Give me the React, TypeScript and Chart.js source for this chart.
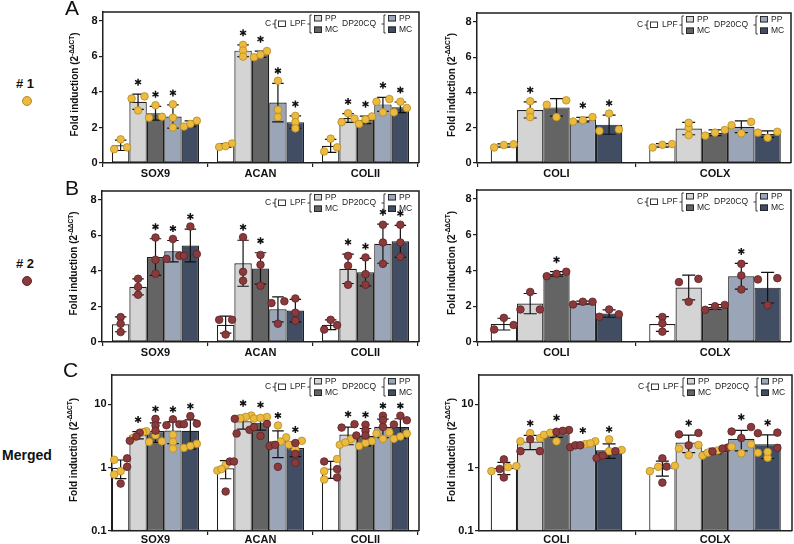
import React, { useEffect, useRef } from 'react';
import { Chart, registerables } from 'chart.js';

Chart.register(...registerables);

const FONT = '"Liberation Sans", Arial, Helvetica, sans-serif';

// ---------- data ----------
const groupLabels = ['C', 'LPF PP', 'LPF MC', 'DP20CQ PP', 'DP20CQ MC'];
const chondroGenes = ['SOX9', 'ACAN', 'COLII'];
const fibroGenes = ['COLI', 'COLX'];
const linearTicks = [0, 2, 4, 6, 8];
const logTicks = [0.1, 1, 10];
const logTickLabels = ['0.1', '1', '10'];

// Donor #1 replicates; rows = C, LPF PP, LPF MC, DP20CQ PP, DP20CQ MC
const sox9Donor1 = [[1.33, 0.78, 0.88], [3.75, 3.63, 2.96], [3.25, 2.6, 2.55], [3.3, 2.55, 2.0], [2.05, 2.38, 2.2]];
const acanDonor1 = [[0.9, 1.1, 0.95], [6.65, 6.33, 5.99], [5.95, 6.3, 6.1], [4.63, 3.0, 2.58], [2.65, 2.3, 1.95]];
const col2Donor1 = [[0.65, 1.37, 0.88], [2.3, 2.8, 2.5], [2.2, 2.62, 2.45], [3.45, 2.85, 3.6], [3.45, 2.85, 3.1]];
const col1Donor1 = [[0.88, 1.06, 1.02], [3.5, 2.92, 2.6], [3.3, 3.55, 2.6], [2.35, 2.6, 2.42], [1.82, 2.8, 1.9]];
const colXDonor1 = [[0.88, 1.07, 1.03], [1.58, 2.0, 2.28], [1.55, 1.87, 1.72], [1.68, 2.14, 2.33], [1.43, 1.77, 1.72]];

// Donor #2 replicates
const sox9Donor2 = [[1.4, 1.03, 0.56], [3.56, 3.1, 2.66], [5.88, 4.63, 3.84], [4.68, 5.8, 4.85], [4.85, 6.5, 4.95]];
const acanDonor2 = [[1.25, 0.42, 1.25], [5.9, 3.95, 3.45], [4.9, 4.35, 3.17], [2.19, 1.03, 2.29], [2.45, 1.65, 1.2]];
const col2Donor2 = [[0.7, 0.95, 1.25], [4.85, 4.29, 3.22], [4.76, 3.82, 3.22], [6.6, 5.6, 4.4], [6.6, 5.6, 4.8]];
const col1Donor2 = [[0.7, 1.35, 0.95], [1.82, 2.8, 1.82], [3.68, 3.93, 3.81], [2.1, 2.25, 2.25], [1.41, 1.82, 1.55]];
const colXDonor2 = [[1.4, 1.04, 0.58], [3.53, 3.35, 2.25], [1.8, 2.07, 2.0], [2.94, 3.72, 4.37], [3.5, 3.57, 2.05]];

// significance (asterisk) per gene, per group
const sigA_chondro = [[0, 1, 1, 1, 0], [0, 1, 1, 1, 1], [0, 1, 1, 1, 1]];
const sigA_fibro = [[0, 1, 0, 1, 1], [0, 0, 0, 0, 0]];
const sigB_chondro = [[0, 0, 1, 1, 1], [0, 1, 1, 0, 0], [0, 1, 1, 1, 1]];
const sigB_fibro = [[0, 0, 1, 0, 0], [0, 0, 0, 1, 0]];
const sigM_chondro = [[0, 1, 1, 1, 1], [0, 1, 1, 1, 1], [0, 1, 1, 1, 1]];
const sigM_fibro = [[0, 1, 1, 1, 1], [0, 1, 0, 1, 1]];

// ---------- styles ----------
const GROUP_FILLS = ['#ffffff', '#d4d4d4', '#646464', '#9aa5b8', '#404d63'];
const INK = '#1e1e1e';
const DONOR_FILL: Record<number, string> = { 1: '#ebba3e', 2: '#8b3a3c' };
const DONOR_EDGE: Record<number, string> = { 1: '#b58b25', 2: '#5c2224' };
const DOT_R = 3.8;

type Layout = { l: number; r: number; t: number; b: number; c0: number; step: number; titleOff: number; padR: number; xPad: number };
type PanelDef = { id: string; genes: string[]; donorSets: number[][][][]; donorIds: number[]; sig: number[][]; log: boolean; lay: Layout };

const panels: PanelDef[] = [
  { id: 'A1', genes: chondroGenes, donorSets: [[sox9Donor1, acanDonor1, col2Donor1]], donorIds: [1], sig: sigA_chondro, log: false,
    lay: { l: 103, r: 419, t: 12, b: 163, c0: 155.5, step: 105, titleOff: 28.5, padR: 3, xPad: 0 } },
  { id: 'A2', genes: fibroGenes, donorSets: [[col1Donor1, colXDonor1]], donorIds: [1], sig: sigA_fibro, log: false,
    lay: { l: 477, r: 791, t: 13, b: 163, c0: 556.5, step: 158.5, titleOff: 26, padR: 3, xPad: 0 } },
  { id: 'B1', genes: chondroGenes, donorSets: [[sox9Donor2, acanDonor2, col2Donor2]], donorIds: [2], sig: sigB_chondro, log: false,
    lay: { l: 102, r: 419, t: 191, b: 342, c0: 155.5, step: 105, titleOff: 28.5, padR: 3, xPad: 0 } },
  { id: 'B2', genes: fibroGenes, donorSets: [[col1Donor2, colXDonor2]], donorIds: [2], sig: sigB_fibro, log: false,
    lay: { l: 477, r: 791, t: 190, b: 342, c0: 556.5, step: 158.5, titleOff: 26, padR: 3, xPad: 0 } },
  { id: 'C1', genes: chondroGenes, donorSets: [[sox9Donor1, acanDonor1, col2Donor1], [sox9Donor2, acanDonor2, col2Donor2]], donorIds: [1, 2], sig: sigM_chondro, log: true,
    lay: { l: 112, r: 419, t: 375, b: 531, c0: 155.5, step: 105, titleOff: 39, padR: 3, xPad: -2 } },
  { id: 'C2', genes: fibroGenes, donorSets: [[col1Donor1, colXDonor1], [col1Donor2, colXDonor2]], donorIds: [1, 2], sig: sigM_fibro, log: true,
    lay: { l: 479, r: 792, t: 375, b: 531, c0: 556.5, step: 158.5, titleOff: 28, padR: 2, xPad: -2 } },
];

type Pt = { v: number; donor: number };

function mean(a: number[]) { return a.reduce((s, x) => s + x, 0) / a.length; }
function sdev(a: number[]) {
  const m = mean(a);
  return Math.sqrt(a.reduce((s, x) => s + (x - m) * (x - m), 0) / (a.length - 1));
}
function pointsOf(p: PanelDef, j: number, i: number): Pt[] {
  const out: Pt[] = [];
  p.donorSets.forEach((set, k) => set[j][i].forEach((v) => out.push({ v, donor: p.donorIds[k] })));
  return out;
}

// GraphPad-like spreading of overlapping points
function swarm(py: number[], thr: number, d: number, bw: number): number[] {
  const idx = py.map((_, k) => k).sort((a, b) => py[b] - py[a]);
  const offs = new Array(py.length).fill(0);
  const flush = (c: number[]) => {
    const n = c.length;
    if (n === 1) offs[c[0]] = 0;
    else if (n === 2) { offs[c[0]] = -d; offs[c[1]] = d; }
    else {
      const sp = Math.min(d, (0.95 * bw) / (n - 1));
      c.forEach((k, q) => { offs[k] = (q - (n - 1) / 2) * sp; });
    }
  };
  let cluster = [idx[0]];
  for (let q = 1; q < idx.length; q++) {
    if (Math.abs(py[idx[q]] - py[idx[q - 1]]) < thr) cluster.push(idx[q]);
    else { flush(cluster); cluster = [idx[q]]; }
  }
  flush(cluster);
  return offs;
}

function drawStar(ctx: CanvasRenderingContext2D, x: number, y: number) {
  ctx.save();
  ctx.strokeStyle = '#111';
  ctx.lineWidth = 1.5;
  ctx.beginPath();
  for (let k = 0; k < 3; k++) {
    const a = Math.PI / 2 + (k * Math.PI) / 3;
    ctx.moveTo(x + Math.cos(a) * 3.5, y + Math.sin(a) * 3.5);
    ctx.lineTo(x - Math.cos(a) * 3.5, y - Math.sin(a) * 3.5);
  }
  ctx.stroke();
  ctx.restore();
}

function bracket(ctx: CanvasRenderingContext2D, x: number, y0: number, y1: number) {
  const ym = (y0 + y1) / 2;
  ctx.beginPath();
  ctx.moveTo(x - 2.5, ym); ctx.lineTo(x, ym);
  ctx.moveTo(x + 1.8, y0); ctx.lineTo(x, y0); ctx.lineTo(x, y1); ctx.lineTo(x + 1.8, y1);
  ctx.stroke();
}

function swatch(ctx: CanvasRenderingContext2D, x: number, y: number, fill: string) {
  ctx.fillStyle = fill;
  ctx.fillRect(x, y, 8, 6.5);
  ctx.strokeRect(x + 0.5, y + 0.5, 7, 5.5);
}

function drawLegend(ctx: CanvasRenderingContext2D, R: number, T: number) {
  ctx.save();
  ctx.strokeStyle = '#222';
  ctx.lineWidth = 0.9;
  ctx.font = `8.5px ${FONT}`;
  ctx.textBaseline = 'middle';
  ctx.textAlign = 'left';
  const mid = T + 12;
  ctx.fillStyle = '#222';
  ctx.fillText('C', R - 154, mid);
  bracket(ctx, R - 144, mid - 4, mid + 4);
  swatch(ctx, R - 141, mid - 3.5, GROUP_FILLS[0]);
  ctx.fillStyle = '#222';
  ctx.fillText('LPF', R - 129, mid);
  bracket(ctx, R - 109, T + 3, T + 21);
  swatch(ctx, R - 105, T + 3, GROUP_FILLS[1]);
  swatch(ctx, R - 105, T + 14.5, GROUP_FILLS[2]);
  ctx.fillStyle = '#222';
  ctx.fillText('PP', R - 94, T + 6.5);
  ctx.fillText('MC', R - 94, T + 18);
  ctx.fillText('DP20CQ', R - 77, mid);
  bracket(ctx, R - 35, T + 3, T + 21);
  swatch(ctx, R - 31, T + 3, GROUP_FILLS[3]);
  swatch(ctx, R - 31, T + 14.5, GROUP_FILLS[4]);
  ctx.fillStyle = '#222';
  ctx.fillText('PP', R - 20, T + 6.5);
  ctx.fillText('MC', R - 20, T + 18);
  ctx.restore();
}

function drawTitle(ctx: CanvasRenderingContext2D, x: number, y: number) {
  ctx.save();
  ctx.translate(x, y);
  ctx.rotate(-Math.PI / 2);
  const main = 'Fold induction (2';
  const sup = '-ΔΔCT';
  const close = ')';
  ctx.font = `bold 10px ${FONT}`;
  const w1 = ctx.measureText(main).width;
  const w3 = ctx.measureText(close).width;
  ctx.font = `bold 6.5px ${FONT}`;
  const w2 = ctx.measureText(sup).width;
  let sx = -(w1 + w2 + w3) / 2;
  ctx.fillStyle = '#111';
  ctx.textAlign = 'left';
  ctx.textBaseline = 'alphabetic';
  ctx.font = `bold 10px ${FONT}`;
  ctx.fillText(main, sx, 3.5);
  sx += w1;
  ctx.font = `bold 6.5px ${FONT}`;
  ctx.fillText(sup, sx, -0.8);
  sx += w2;
  ctx.font = `bold 10px ${FONT}`;
  ctx.fillText(close, sx, 3.5);
  ctx.restore();
}

function makeOverlay(p: PanelDef) {
  return {
    id: 'overlay' + p.id,
    afterDatasetsDraw(chart: any) {
      const ctx: CanvasRenderingContext2D = chart.ctx;
      const ys = chart.scales.y;
      const area = chart.chartArea;
      const info: any[] = [];
      p.genes.forEach((_g, j) => {
        groupLabels.forEach((_l, i) => {
          const bar = chart.getDatasetMeta(i).data[j];
          const pts = pointsOf(p, j, i);
          const vals = pts.map((q) => q.v);
          const m = mean(vals);
          const s = sdev(vals);
          const yTop = ys.getPixelForValue(m + s);
          const lo = m - s;
          const yBot = lo > ys.min ? ys.getPixelForValue(lo) : area.bottom;
          info.push({ i, j, bar, pts, yTop, yBot, dotTop: 0 });
        });
      });
      ctx.save();
      ctx.strokeStyle = '#111';
      ctx.lineWidth = 1.2;
      info.forEach(({ bar, yTop, yBot }) => {
        const cw = Math.min(6.5, bar.width * 0.33);
        ctx.beginPath();
        ctx.moveTo(bar.x, yTop); ctx.lineTo(bar.x, yBot);
        ctx.moveTo(bar.x - cw, yTop); ctx.lineTo(bar.x + cw, yTop);
        ctx.moveTo(bar.x - cw, yBot); ctx.lineTo(bar.x + cw, yBot);
        ctx.stroke();
      });
      info.forEach((it) => {
        const py = it.pts.map((q: Pt) => ys.getPixelForValue(q.v));
        const offs = swarm(py, 4.5, it.bar.width * 0.37, it.bar.width);
        it.dotTop = Math.min(...py);
        it.pts.forEach((q: Pt, k: number) => {
          ctx.beginPath();
          ctx.arc(it.bar.x + offs[k], py[k], DOT_R, 0, Math.PI * 2);
          ctx.fillStyle = DONOR_FILL[q.donor];
          ctx.fill();
          ctx.lineWidth = 0.8;
          ctx.strokeStyle = DONOR_EDGE[q.donor];
          ctx.stroke();
        });
      });
      info.forEach((it) => {
        if (p.sig[it.j][it.i]) drawStar(ctx, it.bar.x, Math.min(it.yTop - 12, it.dotTop - 10));
      });
      ctx.restore();
    },
    afterDraw(chart: any) {
      const ctx: CanvasRenderingContext2D = chart.ctx;
      const a = chart.chartArea;
      ctx.save();
      ctx.strokeStyle = INK;
      ctx.lineWidth = 1.5;
      ctx.beginPath();
      ctx.moveTo(a.left, a.top);
      ctx.lineTo(a.right, a.top);
      ctx.lineTo(a.right, a.bottom);
      ctx.stroke();
      ctx.restore();
      drawLegend(ctx, a.right, a.top);
      drawTitle(ctx, a.left - p.lay.titleOff, (a.top + a.bottom) / 2 - 3);
    },
  };
}

function buildConfig(p: PanelDef, xAxisH: number): any {
  const lay = p.lay;
  const tickFont = { family: FONT, size: 11, weight: 'bold' as const };
  const datasets = groupLabels.map((label, i) => ({
    label,
    data: p.genes.map((_g, j) => ({ x: j, y: mean(pointsOf(p, j, i).map((q) => q.v)) })),
    backgroundColor: GROUP_FILLS[i],
    borderColor: INK,
    borderWidth: 1.2,
    borderSkipped: false,
    categoryPercentage: 0.83,
    barPercentage: 1,
  }));
  const yCommon = {
    afterFit: (s: any) => { s.width = 40; },
    grid: { display: true, drawOnChartArea: false, drawTicks: true, tickLength: 4, color: INK, lineWidth: 1.2 },
    border: { display: true, color: INK, width: 1.5 },
  };
  const y = p.log
    ? {
        ...yCommon,
        type: 'logarithmic',
        min: 0.1,
        max: 29,
        bounds: 'data',
        afterBuildTicks: (s: any) => { s.ticks = logTicks.map((v) => ({ value: v })); },
        ticks: {
          padding: 1.5, color: '#111', font: tickFont, autoSkip: false,
          callback: (v: number) => { const k = logTicks.indexOf(v); return k >= 0 ? logTickLabels[k] : ''; },
        },
      }
    : {
        ...yCommon,
        type: 'linear',
        min: 0,
        max: 8.5,
        bounds: 'data',
        afterBuildTicks: (s: any) => { s.ticks = linearTicks.map((v) => ({ value: v })); },
        ticks: { padding: 1.5, color: '#111', font: tickFont, autoSkip: false, callback: (v: number) => String(v) },
      };
  return {
    type: 'bar',
    data: { datasets },
    options: {
      animation: false,
      responsive: false,
      devicePixelRatio: 1,
      events: [],
      layout: { padding: { left: 10, top: 12, right: lay.padR, bottom: 0 } },
      plugins: { legend: { display: false }, tooltip: { enabled: false }, title: { display: false } },
      scales: {
        x: {
          type: 'linear',
          bounds: 'data',
          offset: false,
          min: (lay.l - lay.c0) / lay.step,
          max: (lay.r - lay.c0) / lay.step,
          afterBuildTicks: (s: any) => { s.ticks = p.genes.map((_g, j) => ({ value: j })); },
          afterFit: (s: any) => { s.height = xAxisH; },
          ticks: {
            autoSkip: false, maxRotation: 0, minRotation: 0, padding: lay.xPad, color: '#111', font: tickFont,
            callback: (v: number) => p.genes[v] ?? '',
          },
          grid: { display: true, drawOnChartArea: false, drawTicks: true, tickLength: 4, color: INK, lineWidth: 1.2 },
          border: { display: true, color: INK, width: 1.5 },
        },
        y,
      },
    },
    plugins: [makeOverlay(p)],
  };
}

function PanelChart({ p }: { p: PanelDef }) {
  const ref = useRef<HTMLCanvasElement | null>(null);
  const lay = p.lay;
  const left = lay.l - 50;
  const top = lay.t - 12;
  const bottom = Math.min(lay.b + 24, 544);
  const xAxisH = bottom - lay.b;
  const width = lay.r + lay.padR - left;
  const height = bottom - top;
  useEffect(() => {
    if (!ref.current) return;
    const chart = new Chart(ref.current, buildConfig(p, xAxisH));
    return () => chart.destroy();
  }, []);
  return (
    <canvas
      ref={ref}
      width={width}
      height={height}
      style={{ position: 'absolute', left, top, width, height, display: 'block' }}
    />
  );
}

const txt = (extra: React.CSSProperties): React.CSSProperties => ({
  position: 'absolute', lineHeight: 1, whiteSpace: 'nowrap', fontFamily: FONT, color: '#111', ...extra,
});

export default function App() {
  return (
    <div style={{ position: 'absolute', left: 0, top: 0, width: 794, height: 544, overflow: 'hidden', background: '#fff' }}>
      {panels.map((p) => <PanelChart key={p.id} p={p} />)}
      <div style={txt({ left: 65, top: -3, fontSize: 21 })}>A</div>
      <div style={txt({ left: 65, top: 177, fontSize: 21 })}>B</div>
      <div style={txt({ left: 63, top: 359, fontSize: 21 })}>C</div>
      <div style={txt({ left: 16, top: 77, fontSize: 13, fontWeight: 'bold' })}># 1</div>
      <div style={{ position: 'absolute', left: 22.2, top: 96.2, width: 8, height: 8, borderRadius: '50%', background: DONOR_FILL[1], border: `0.8px solid ${DONOR_EDGE[1]}` }} />
      <div style={txt({ left: 16, top: 257, fontSize: 13, fontWeight: 'bold' })}># 2</div>
      <div style={{ position: 'absolute', left: 22.2, top: 276.2, width: 8, height: 8, borderRadius: '50%', background: DONOR_FILL[2], border: `0.8px solid ${DONOR_EDGE[2]}` }} />
      <div style={txt({ left: 2, top: 448, fontSize: 14, fontWeight: 'bold' })}>Merged</div>
    </div>
  );
}
